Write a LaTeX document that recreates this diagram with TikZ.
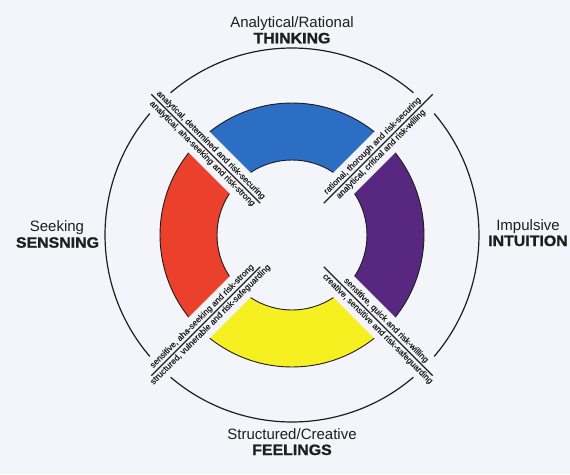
\documentclass[tikz,border=0pt]{standalone}
\usepackage{fontspec}
\setmainfont{Liberation Sans}
\newfontfamily\heavyfont{Liberation Sans}[BoldFeatures={FakeBold=1.2}]
\newfontfamily\labelfont{Liberation Sans}[FakeBold=0.4]
\definecolor{bg}{RGB}{244,245,250}
\definecolor{ringblue}{RGB}{44,110,196}
\definecolor{ringred}{RGB}{234,64,44}
\definecolor{ringyellow}{RGB}{246,240,32}
\definecolor{ringpurple}{RGB}{88,40,128}
\definecolor{ink}{RGB}{30,30,30}
\tikzset{
  lbl/.style={font=\labelfont\fontsize{8.5}{9}\selectfont, text=ink, inner sep=1.8pt},
  ttl/.style={font=\fontsize{15}{17}\selectfont, text=ink, anchor=base, inner sep=0pt},
  rim/.style={draw=ink, line width=1.2pt},
  edge/.style={draw=ink, line width=0.9pt},
  divider/.style={draw=ink, line width=1.2pt}
}
\newcommand{\widebold}[1]{\scalebox{1.06}[1]{\heavyfont\bfseries #1}}
\begin{document}
\begin{tikzpicture}[x=1pt,y=1pt]
\fill[bg] (-292,-239) rectangle (278,235);
\useasboundingbox (-292,-239) rectangle (278,235);

% outer broken circle
\foreach \a [evaluate=\a as \s using \a+49.5, evaluate=\a as \e using \a+130.5] in {0,90,180,270}
  \draw[rim] (\s:187) arc[start angle=\s, end angle=\e, radius=187];

% coloured ring segments
\foreach \a/\c in {90/ringblue,180/ringred,270/ringyellow,0/ringpurple}{
  \pgfmathsetmacro{\os}{\a-38.48}
  \pgfmathsetmacro{\oe}{\a+38.48}
  \pgfmathsetmacro{\is}{\a+33.46}
  \pgfmathsetmacro{\ie}{\a-33.46}
  \fill[\c] (\os:132) arc[start angle=\os, end angle=\oe, radius=132]
     -- (\is:75) arc[start angle=\is, end angle=\ie, radius=75] -- cycle;
  \draw[edge] (\os:132) arc[start angle=\os, end angle=\oe, radius=132];
  \draw[edge] (\is:75) arc[start angle=\is, end angle=\ie, radius=75];
}

% diagonal dividers
\foreach \n/\a in {ne/45,nw/135,sw/225,se/315}{
  \coordinate (\n in) at (\a:45);
  \coordinate (\n out) at (\a:199);
  \draw[divider] (\n in) -- (\n out);
}

% diagonal labels
\node[lbl, rotate=-45, anchor=south] (nwa) at (135:121) {analytical, determined and risk-securing};
\node[lbl, rotate=-45, anchor=north] (nwb) at (135:121) {analytical, aha-seeking and risk-strong};
\node[lbl, rotate=45, anchor=south] (nea) at (45:120) {rational, thorough and risk-securing};
\node[lbl, rotate=45, anchor=north] (neb) at (45:120) {analytical, critical and risk-willing};
\node[lbl, rotate=45, anchor=south] (swa) at (225:121) {sensitive, aha-seeking and risk-strong};
\node[lbl, rotate=45, anchor=north] (swb) at (225:121) {structured, vulnerable and risk-safeguarding};
\node[lbl, rotate=-45, anchor=south] (sea) at (315:127) {sensitive, quick and risk-willing};
\node[lbl, rotate=-45, anchor=north] (seb) at (315:127) {creative, sensitive and risk-safeguarding};

% titles
\node[ttl] (t1) at (0,207.7) {Analytical/Rational};
\node[ttl] (t2) at (0,191.7) {\widebold{THINKING}};
\node[ttl] (b1) at (0,-204.3) {Structured/Creative};
\node[ttl] (b2) at (0,-220) {\widebold{FEELINGS}};
\node[ttl] (l1) at (-235,3.3) {Seeking};
\node[ttl] (l2) at (-234.5,-12.7) {\widebold{SENSNING}};
\node[ttl] (r1) at (236,5) {Impulsive};
\node[ttl] (r2) at (236,-11) {\widebold{INTUITION}};
\end{tikzpicture}
\end{document}
